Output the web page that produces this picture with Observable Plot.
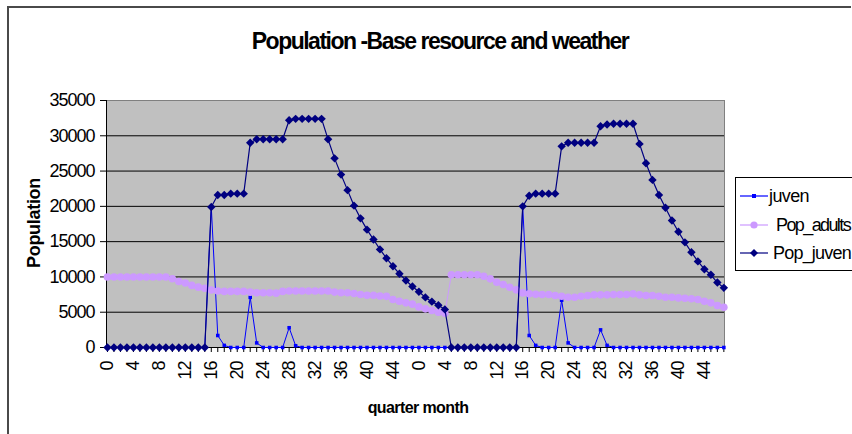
<!DOCTYPE html>
<html>
<head>
<meta charset="utf-8">
<script src="https://cdn.jsdelivr.net/npm/d3@7"></script>
<script src="https://cdn.jsdelivr.net/npm/@observablehq/plot@0.6"></script>
<style>
  body { margin: 0; background: #fff; }
  #wrap { position: relative; width: 852px; height: 434px; overflow: hidden; font-family: "Liberation Sans", Arial, sans-serif; }
  #border { position: absolute; left: 7px; top: 6px; width: 842px; height: 500px; border-top: 2px solid #4a4a4a; border-left: 2px solid #4a4a4a; }
  #chart { position: absolute; left: 0; top: 0; }
  .t { position: absolute; white-space: nowrap; font-weight: bold; color: #000; line-height: 1; }
  #title { left: 440px; top: 30px; font-size: 23px; letter-spacing: -1.5px; transform: translateX(-50%); }
  #xtitle { left: 418px; top: 400px; font-size: 16px; letter-spacing: -0.6px; transform: translateX(-50%); }
  #ytitle { left: 34px; top: 223px; font-size: 18px; letter-spacing: -0.3px; transform: translate(-50%, -50%) rotate(-90deg); }
  #legend { position: absolute; left: 735px; top: 177px; width: 140px; height: 92px; border: 1px solid #000; background: #fff; }
  .li { position: absolute; left: 0; height: 20px; font-size: 18px; letter-spacing: -0.8px; color: #000; }
  .li svg { position: absolute; left: 4px; top: 5px; }
  .li span { position: absolute; top: 1px; line-height: 18px; white-space: nowrap; }
</style>
</head>
<body>
<div id="wrap">
  <div id="border"></div>
  <div id="chart"></div>
  <div class="t" id="title">Population -Base resource and weather</div>
  <div class="t" id="xtitle">quarter month</div>
  <div class="t" id="ytitle">Population</div>
  <div id="legend"></div>
</div>
<script>
// Category labels (quarter month, two consecutive years)
const quarterMonth = [
  0,1,2,3,4,5,6,7,8,9,10,11,12,13,14,15,16,17,18,19,20,21,22,23,
  24,25,26,27,28,29,30,31,32,33,34,35,36,37,38,39,40,41,42,43,44,45,46,47,
  0,1,2,3,4,5,6,7,8,9,10,11,12,13,14,15,16,17,18,19,20,21,22,23,
  24,25,26,27,28,29,30,31,32,33,34,35,36,37,38,39,40,41,42,43,44,45,46,47
];

// Series values
const juven = [
  0,0,0,0,0,0,0,0,0,0,0,0,0,0,0,0,19900,1700,300,0,0,0,7100,650,
  0,0,0,0,2800,250,0,0,0,0,0,0,0,0,0,0,0,0,0,0,0,0,0,0,
  0,0,0,0,0,0,0,0,0,0,0,0,0,0,0,0,20000,1700,300,0,0,0,6700,650,
  0,0,0,0,2500,300,0,0,0,0,0,0,0,0,0,0,0,0,0,0,0,0,0,0
];

const popAdults = [
  10000,10000,10000,10000,10000,10000,10000,10000,10000,10000,9750,9350,9150,8800,8550,8400,8150,8000,7950,7950,7950,7950,7850,7750,
  7750,7750,7700,7950,8000,8000,8000,8000,8000,8000,8000,7850,7750,7750,7650,7500,7400,7400,7300,7250,6800,6550,6330,6140,
  5750,5480,5240,5000,4860,10300,10300,10300,10300,10300,10100,9730,9250,8920,8540,8170,7740,7600,7550,7500,7500,7370,7270,7130,
  7130,7270,7370,7460,7460,7460,7500,7500,7500,7600,7460,7370,7370,7270,7130,7130,7030,6980,6900,6800,6560,6330,5950,5700
];

const popJuven = [
  0,0,0,0,0,0,0,0,0,0,0,0,0,0,0,0,19900,21600,21600,21800,21800,21800,29000,29500,
  29500,29500,29500,29500,32200,32400,32400,32400,32400,32400,29500,26800,24500,22300,20100,18300,16700,15300,13900,12650,11500,10450,9500,8650,
  7900,7100,6500,6000,5400,0,0,0,0,0,0,0,0,0,0,0,20000,21500,21800,21800,21800,21800,28500,29000,
  29000,29000,29000,29000,31350,31600,31700,31700,31700,31700,28850,26100,23750,21600,19800,18000,16400,14900,13500,12200,11100,10300,9200,8450
];

const yTicks = [0, 5000, 10000, 15000, 20000, 25000, 30000, 35000];
const seriesNames = ["juven", "Pop_adults", "Pop_juven"];
const seriesColors = ["#0000FF", "#CC99FF", "#000080"];

const rows = quarterMonth.map((q, i) => ({ i, q, juven: juven[i], adults: popAdults[i], pj: popJuven[i] }));
const allTicks = d3.range(quarterMonth.length);
const labelTicks = allTicks.filter(i => i % 4 === 0);

const chart = Plot.plot({
  width: 852,
  height: 434,
  marginLeft: 106,
  marginRight: 128,
  marginTop: 100,
  marginBottom: 87,
  style: { fontFamily: '"Liberation Sans", Arial, sans-serif', fontSize: "18px", letterSpacing: "-1px", background: "transparent", color: "#000", overflow: "visible" },
  x: { type: "linear", domain: [-0.15, 95.1], label: null },
  y: { domain: [0, 35000], label: null },
  marks: [
    Plot.frame({ fill: "#C0C0C0", stroke: "#808080" }),
    Plot.gridY(yTicks.filter(v => v > 0 && v < 35000), { stroke: "#000", strokeOpacity: 1, strokeWidth: 1 }),
    Plot.ruleX([-0.15], { stroke: "#000" }),
    Plot.ruleY([0], { stroke: "#000" }),
    Plot.axisY(yTicks, { tickSize: 6, tickPadding: 6, label: null, stroke: "#000", fill: "#000", tickFormat: d => String(d) }),
    Plot.axisX(allTicks, { tickSize: 5, tickFormat: () => "", label: null, stroke: "#000" }),
    Plot.axisX(labelTicks, { tickSize: 0, tickPadding: 14, tickRotate: -90, tickFormat: i => String(quarterMonth[i]), label: null, fill: "#000" }),
    // juven
    Plot.line(rows, { x: "i", y: "juven", stroke: seriesColors[0], strokeWidth: 1 }),
    Plot.dot(rows, { x: "i", y: "juven", symbol: "square", r: 2, fill: seriesColors[0], stroke: null }),
    // Pop_adults
    Plot.line(rows, { x: "i", y: "adults", stroke: seriesColors[1], strokeWidth: 1 }),
    Plot.dot(rows, { x: "i", y: "adults", symbol: "circle", r: 3.8, fill: seriesColors[1], stroke: null }),
    // Pop_juven
    Plot.line(rows, { x: "i", y: "pj", stroke: seriesColors[2], strokeWidth: 1.2 }),
    Plot.dot(rows, { x: "i", y: "pj", symbol: "diamond2", r: 3.8, fill: seriesColors[2], stroke: null })
  ]
});
document.getElementById("chart").appendChild(chart);

// Legend (Excel style: line + marker + name)
const legend = document.getElementById("legend");
const legendTops = [8, 37, 65];
const textLefts = [33, 40, 37];
const textSpacing = ["-0.6px", "-1.6px", "-0.8px"];
const markerSvg = [
  c => `<rect x="12" y="3" width="4" height="4" fill="${c}"/>`,
  c => `<circle cx="14" cy="5" r="3.6" fill="${c}"/>`,
  c => `<path d="M14 1 L18 5 L14 9 L10 5 Z" fill="${c}"/>`
];
seriesNames.forEach((name, k) => {
  const item = document.createElement("div");
  item.className = "li";
  item.style.top = legendTops[k] + "px";
  item.innerHTML = `<svg width="30" height="10"><line x1="0" x2="28" y1="5" y2="5" stroke="${seriesColors[k]}" stroke-width="1.2"/>${markerSvg[k](seriesColors[k])}</svg><span style="left:${textLefts[k]}px;letter-spacing:${textSpacing[k]}">${name}</span>`;
  legend.appendChild(item);
});
</script>
</body>
</html>
